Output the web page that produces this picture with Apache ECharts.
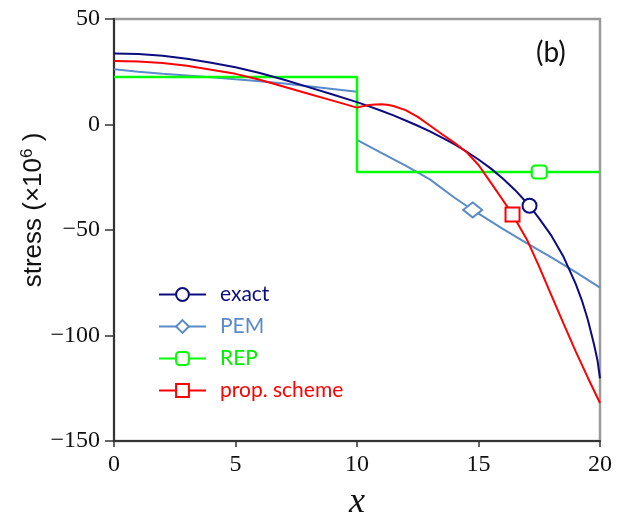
<!DOCTYPE html>
<html>
<head>
<meta charset="utf-8">
<script src="https://cdn.jsdelivr.net/npm/echarts@6/dist/echarts.min.js"></script>
<style>
  html, body { margin: 0; padding: 0; background: #fff; }
  #chart { width: 621px; height: 519px; }
</style>
</head>
<body>
<div id="chart"></div>
<script>
// values (x in units, stress in 1e6)
const exactX = [0, 1, 2, 3, 4, 5, 6, 7, 8, 9, 10, 10.5, 11, 11.5, 12, 12.5, 13, 13.5, 14, 14.5, 15, 15.5, 16, 16.5, 17.1, 17.5, 18, 18.5, 19, 19.25, 19.5, 19.75, 19.9, 20];
const exactY = [33.7, 33.4, 32.6, 31.2, 29.3, 27.1, 24.4, 21.2, 17.7, 14.2, 10.6, 8.6, 6.5, 4.3, 1.9, -0.6, -3.3, -6.2, -9.3, -12.8, -16.6, -20.8, -25.6, -31.0, -38.5, -44.6, -52.7, -62.7, -75.5, -83.2, -92.5, -104.0, -112.0, -120.3];
const exactMark = 17.1;

const pemX = [0, 1, 2, 3, 4, 5, 6, 7, 8, 9, 10, 10, 11, 12, 13, 14, 14.76, 16, 17, 18, 19, 20];
const pemY = [26.2, 25.0, 24.0, 23.2, 22.4, 21.4, 20.5, 19.4, 18.1, 16.8, 15.5, -7.3, -13.5, -19.5, -26.0, -34.6, -40.5, -49.5, -56.3, -63.0, -70.0, -77.3];
const pemMark = 14.76;

const repX = [0, 10, 10, 17.5, 20];
const repY = [22.5, 22.5, -22.5, -22.5, -22.5];
const repMark = 17.5;

const propX = [0, 1, 2, 3, 4, 5, 6, 7, 8, 9, 10, 10.25, 10.5, 10.75, 11, 11.25, 11.5, 12, 12.5, 13, 13.5, 14, 14.5, 15, 15.5, 16, 16.4, 17, 17.5, 18, 18.5, 19, 19.5, 20];
const propY = [30.1, 29.9, 29.1, 27.8, 26.0, 24.0, 21.2, 17.9, 14.6, 11.3, 8.0, 8.7, 9.2, 9.5, 9.6, 9.4, 8.8, 6.8, 3.6, -0.5, -4.6, -8.6, -13.0, -19.2, -27.4, -35.8, -42.6, -54.7, -67.5, -81.0, -94.4, -107.5, -120.0, -132.0];
const propMark = 16.4;

const xTicks = [0, 5, 10, 15, 20];
const yTicks = [-150, -100, -50, 0, 50];

function toData(xs, ys, mark) {
  return xs.map((x, i) => {
    if (x === mark) return { value: [x, ys[i]] };
    return { value: [x, ys[i]], symbol: "none" };
  });
}

const mc = echarts.init(document.getElementById("chart"));
const option = {
  animation: false,
  grid: {
    left: 114,
    right: 21,
    top: 19,
    bottom: 78,
    outerBoundsMode: "none",
    show: true,
    borderColor: "#9a9a9a",
    borderWidth: 2.5,
  },
  graphic: [
    {
      type: "text",
      left: 536,
      top: 39,
      style: { text: "(b)", font: "28px Lato", fill: "#111" },
    },
  ],
  legend: {
    orient: "vertical",
    left: 153,
    top: 279,
    itemWidth: 47,
    itemHeight: 16,
    itemGap: 11,
    textStyle: { fontFamily: "Lato", fontSize: 21, padding: [0, 0, 0, 9] },
    data: [
      { name: "exact", textStyle: { color: "#0c0c80" } },
      { name: "PEM", textStyle: { color: "#5b8bc9" } },
      { name: "REP", textStyle: { color: "#00ee00" } },
      { name: "prop. scheme", textStyle: { color: "#ff0000" } },
    ],
  },
  xAxis: {
    type: "value",
    min: xTicks[0],
    max: xTicks[xTicks.length - 1],
    interval: 5,
    name: "x",
    nameLocation: "middle",
    nameGap: 44,
    nameTextStyle: { fontFamily: "Liberation Serif", fontStyle: "italic", fontSize: 36, color: "#111" },
    axisLine: { onZero: false, lineStyle: { color: "#333", width: 2 } },
    axisTick: { length: 6, lineStyle: { color: "#333", width: 1.5 } },
    axisLabel: { fontFamily: "Liberation Serif", fontSize: 24, color: "#111", margin: 12 },
    splitLine: { show: false },
  },
  yAxis: {
    type: "value",
    min: yTicks[0],
    max: yTicks[yTicks.length - 1],
    interval: 50,
    name: "{a|stress (×10}{s|6}{a| )}",
    nameLocation: "middle",
    nameGap: 66,
    nameMoveOverlap: false,
    nameRotate: 90,
    nameTextStyle: {
      color: "#111",
      padding: [0, 0, 0, 40],
      rich: {
        a: { fontFamily: "Liberation Sans", fontSize: 26, lineHeight: 29, color: "#111" },
        s: { fontFamily: "Liberation Sans", fontSize: 17, lineHeight: 17, verticalAlign: "top", color: "#111" },
      },
    },
    axisLine: { onZero: false, lineStyle: { color: "#333", width: 2 } },
    axisTick: { length: 9, lineStyle: { color: "#333", width: 1.5 } },
    axisLabel: {
      fontFamily: "Liberation Serif",
      fontSize: 24,
      color: "#111",
      margin: 14,
      formatter: (v) => String(v).replace("-", "\u2212"),
    },
    splitLine: { show: false },
  },
  series: [
    {
      name: "PEM",
      type: "line",
      data: toData(pemX, pemY, pemMark),
      symbol: "emptyDiamond",
      symbolSize: [19, 15],
      itemStyle: { color: "#5b8bc9", borderWidth: 2 },
      lineStyle: { color: "#5b8bc9", width: 2 },
      z: 2,
    },
    {
      name: "REP",
      type: "line",
      data: toData(repX, repY, repMark),
      symbol: "emptyRoundRect",
      symbolSize: [15, 13],
      itemStyle: { color: "#00ff00", borderWidth: 2 },
      lineStyle: { color: "#00ff00", width: 2.5 },
      z: 3,
    },
    {
      name: "exact",
      type: "line",
      data: toData(exactX, exactY, exactMark),
      symbol: "emptyCircle",
      symbolSize: 14,
      itemStyle: { color: "#0c0c80", borderWidth: 2 },
      lineStyle: { color: "#0c0c80", width: 2 },
      z: 4,
    },
    {
      name: "prop. scheme",
      type: "line",
      data: toData(propX, propY, propMark),
      symbol: "emptyRect",
      symbolSize: 14,
      itemStyle: { color: "#ff0000", borderWidth: 2 },
      lineStyle: { color: "#ff0000", width: 2 },
      z: 5,
    },
  ],
};
mc.setOption(option);
</script>
</body>
</html>
